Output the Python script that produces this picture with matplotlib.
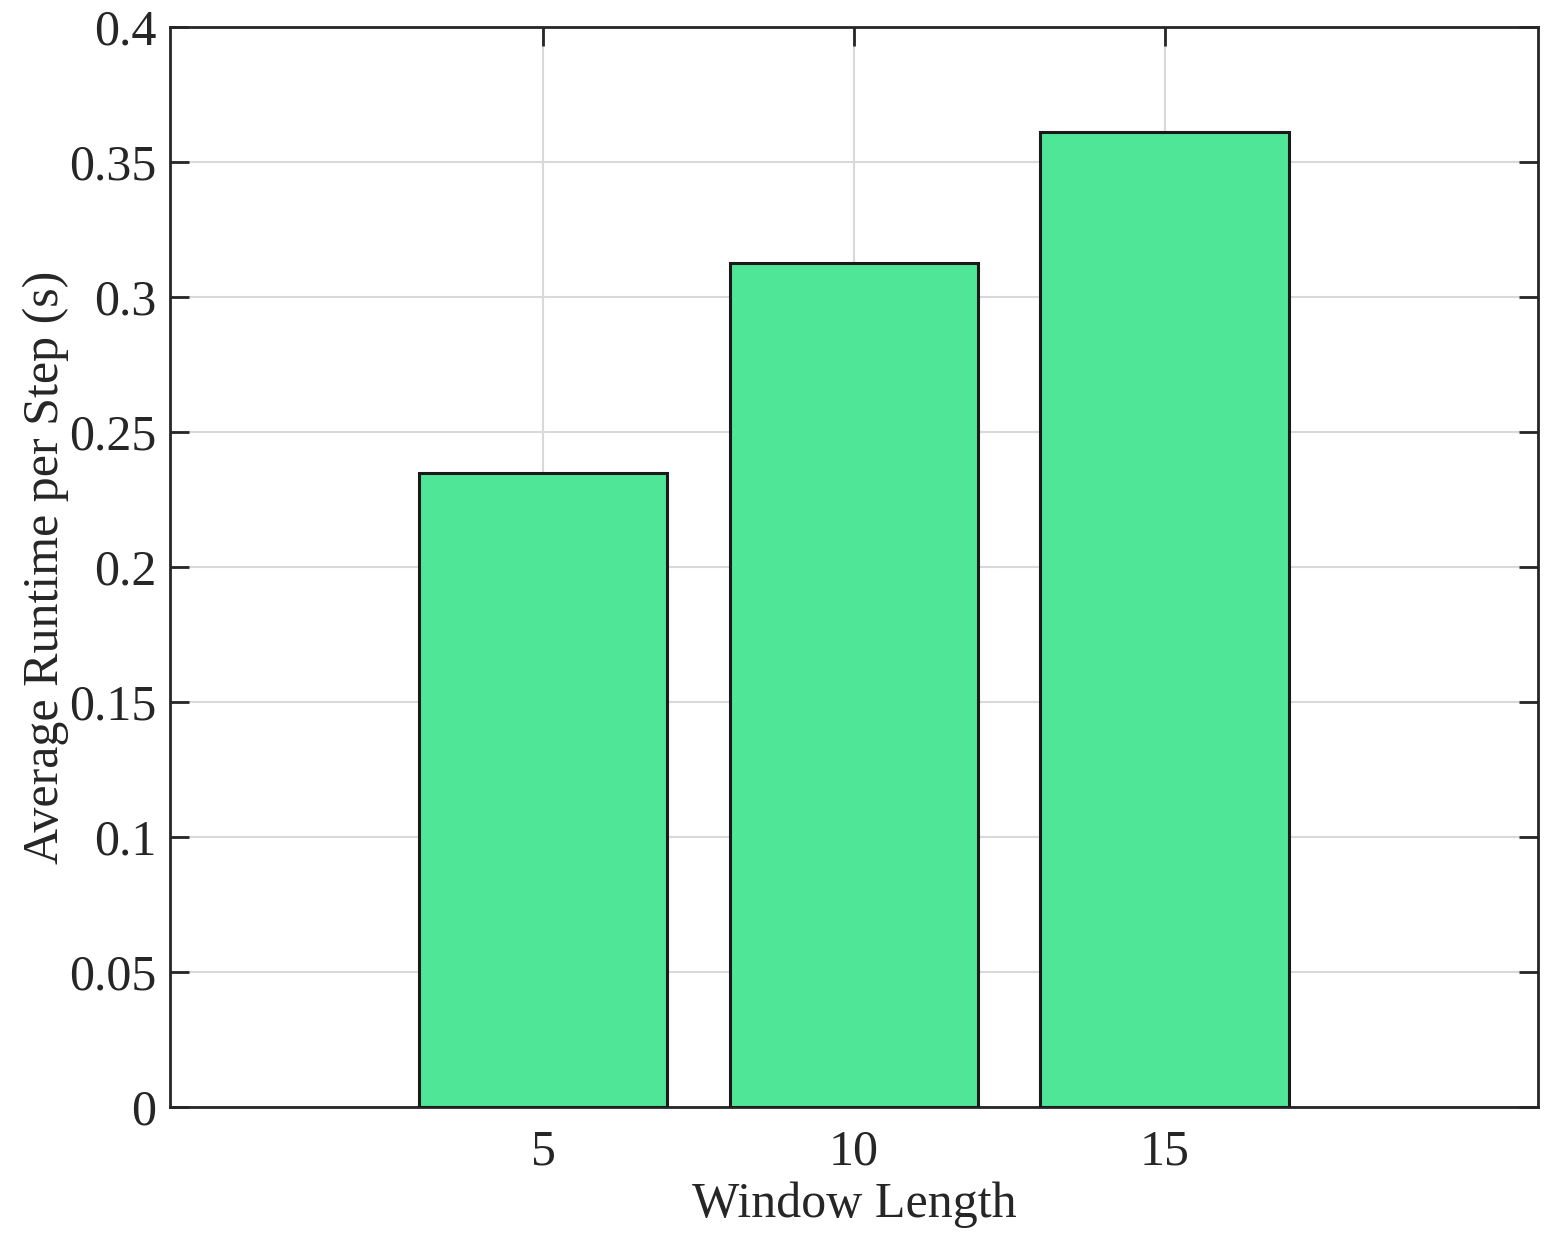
import matplotlib
matplotlib.use("Agg")
import matplotlib.pyplot as plt

window_lengths = [5, 10, 15]
runtimes = [0.2348, 0.3126, 0.3611]
y_ticks = [0, 0.05, 0.1, 0.15, 0.2, 0.25, 0.3, 0.35, 0.4]
y_tick_labels = ["0", "0.05", "0.1", "0.15", "0.2", "0.25", "0.3", "0.35", "0.4"]

plt.rcParams['font.family'] = ['Liberation Serif', 'DejaVu Serif']

fig = plt.figure(figsize=(15.59, 12.42), dpi=100)
ax = fig.add_axes([0.109, 0.1087, 0.8775, 0.8696])

ax.bar(window_lengths, runtimes, width=4.0, color='#4FE698', edgecolor='#1a1a1a',
       linewidth=2.2, zorder=3)

ax.set_xlim(-1, 21)
ax.set_ylim(0, 0.4)
ax.set_xticks(window_lengths)
ax.set_xticklabels([str(w) for w in window_lengths])
ax.set_yticks(y_ticks)
ax.set_yticklabels(y_tick_labels)

ax.grid(True, color='#d9d9d9', linewidth=1.5, zorder=0)
ax.set_axisbelow(True)

ax.tick_params(axis='both', direction='in', length=14, width=2, labelsize=36,
               top=True, right=True, colors='#262626', labelcolor='#262626')
ax.tick_params(axis='x', pad=16)
ax.tick_params(axis='y', pad=10)
for s in ax.spines.values():
    s.set_linewidth(2)
    s.set_color('#262626')

ax.set_xlabel('Window Length', fontsize=36, color='#262626', labelpad=4)
ax.set_ylabel('Average Runtime per Step (s)', fontsize=36, color='#262626', labelpad=0)

fig.savefig('out.png', dpi=100, facecolor='white')
